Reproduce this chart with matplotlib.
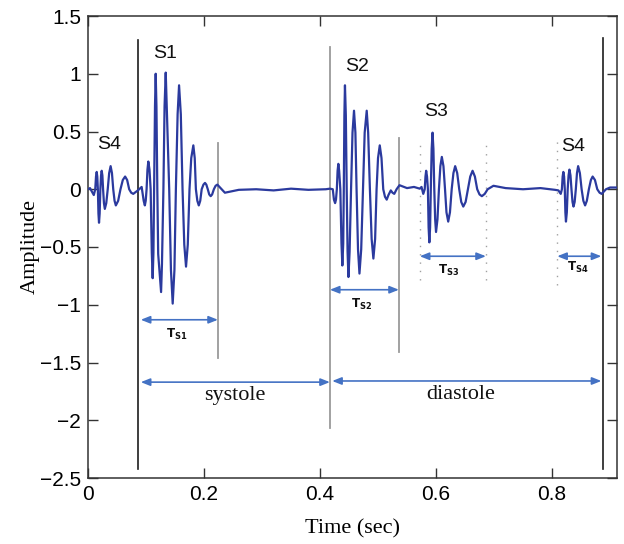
import matplotlib
matplotlib.use("Agg")
import matplotlib.pyplot as plt

# ---------------- data ----------------
# heart-sound trace, read segment by segment (time in s, amplitude)
s4a_t = [0.0, 0.0034, 0.010, 0.0125, 0.0138, 0.015, 0.016, 0.017, 0.018, 0.019, 0.0201,
         0.0213, 0.0225, 0.0236, 0.0248, 0.026, 0.0275, 0.029, 0.0315, 0.034, 0.0365, 0.039,
         0.0413, 0.0435, 0.0458, 0.048, 0.052, 0.056, 0.060, 0.064, 0.0675, 0.071, 0.0745,
         0.078, 0.086]
s4a_a = [0.0, 0.01, -0.05, 0.0, 0.11, 0.15, 0.11, 0.0, -0.21, -0.29, -0.21,
         0.0, 0.12, 0.16, 0.12, 0.0, -0.12, -0.17, -0.12, 0.0, 0.14, 0.20,
         0.14, 0.0, -0.10, -0.14, -0.10, 0.0, 0.08, 0.11, 0.08, 0.0, -0.03,
         -0.04, -0.01]

s1_t = [0.0925, 0.096, 0.098, 0.0995, 0.101, 0.1025, 0.104, 0.106, 0.108, 0.110, 0.1115,
        0.1128, 0.114, 0.1155, 0.1167, 0.118, 0.1195, 0.121, 0.126, 0.1275, 0.130, 0.132,
        0.134, 0.1374, 0.140, 0.143, 0.146, 0.149, 0.1515, 0.1545, 0.157, 0.160, 0.163,
        0.166, 0.169, 0.172, 0.175, 0.178, 0.1816, 0.184, 0.186, 0.1885, 0.191, 0.1935,
        0.196, 0.199, 0.2017, 0.204, 0.2065, 0.209, 0.2115, 0.214, 0.217, 0.220, 0.223]
s1_a = [0.02, -0.10, -0.14, -0.10, 0.0, 0.17, 0.24, 0.17, 0.0, -0.55, -0.77,
        -0.55, 0.0, 0.72, 1.00, 0.72, 0.0, -0.56, -0.89, -0.65, 0.0, 0.72,
        1.01, 0.42, 0.0, -0.70, -0.99, -0.70, 0.0, 0.65, 0.90, 0.65, 0.0,
        -0.48, -0.67, -0.48, 0.0, 0.27, 0.38, 0.27, 0.0, -0.10, -0.14, -0.10,
        0.0, 0.04, 0.055, 0.04, 0.0, -0.045, -0.06, -0.045, 0.0, 0.03, 0.04]

sys_t = [0.236, 0.26, 0.29, 0.32, 0.35, 0.38, 0.41]
sys_a = [-0.03, -0.005, 0.0, -0.01, 0.005, -0.005, 0.0]

s2_t = [0.417, 0.422, 0.424, 0.426, 0.4275, 0.429, 0.4303, 0.4316, 0.433, 0.435, 0.437,
        0.4385, 0.440, 0.441, 0.442, 0.443, 0.4445, 0.446, 0.4475, 0.449, 0.451, 0.4535,
        0.456, 0.4586, 0.461, 0.463, 0.4655, 0.468, 0.471, 0.474, 0.477, 0.4805, 0.483,
        0.486, 0.489, 0.492, 0.495, 0.4975, 0.500, 0.503, 0.506, 0.509, 0.512, 0.515,
        0.518, 0.522, 0.525, 0.528, 0.532, 0.537]
s2_a = [0.005, 0.0, -0.09, -0.12, -0.09, 0.0, 0.16, 0.22, 0.16, 0.0, -0.47,
        -0.66, -0.47, 0.0, 0.64, 0.90, 0.64, 0.0, -0.54, -0.76, -0.54, 0.0,
        0.49, 0.68, 0.49, 0.0, -0.52, -0.73, -0.52, 0.0, 0.49, 0.68, 0.49,
        0.0, -0.43, -0.60, -0.43, 0.0, 0.27, 0.38, 0.27, 0.0, -0.065, -0.09,
        -0.05, -0.01, -0.03, -0.04, 0.0, 0.035]

gap1_t = [0.55, 0.562, 0.572]
gap1_a = [0.01, 0.02, 0.005]

s3_t = [0.575, 0.578, 0.5805, 0.5818, 0.583, 0.5845, 0.586, 0.5872, 0.5885, 0.5898, 0.591,
        0.5925, 0.594, 0.5955, 0.597, 0.5985, 0.600, 0.6025, 0.605, 0.6075, 0.610, 0.6128,
        0.6155, 0.618, 0.621, 0.624, 0.627, 0.630, 0.633, 0.6365, 0.640, 0.6435, 0.647,
        0.651, 0.655, 0.659, 0.663, 0.667, 0.671, 0.675, 0.679, 0.684, 0.689, 0.699]
s3_a = [0.02, -0.04, 0.0, 0.11, 0.16, 0.11, 0.0, -0.33, -0.46, -0.33, 0.0,
        0.35, 0.49, 0.35, 0.0, -0.26, -0.37, -0.26, 0.0, 0.20, 0.28, 0.20,
        0.0, -0.20, -0.28, -0.20, 0.0, 0.14, 0.20, 0.14, 0.0, -0.11, -0.15,
        -0.11, 0.0, 0.11, 0.16, 0.11, 0.0, -0.045, -0.06, -0.04, 0.0, 0.03]

gap2_t = [0.72, 0.75, 0.78, 0.805]
gap2_a = [0.01, 0.0, 0.01, -0.005]

s4b_t = [0.811, 0.815, 0.817, 0.8183, 0.8195, 0.8208, 0.822, 0.823, 0.824, 0.8255, 0.827,
         0.8285, 0.830, 0.8318, 0.8335, 0.8353, 0.837, 0.839, 0.841, 0.843, 0.845, 0.848,
         0.851, 0.854, 0.857, 0.860, 0.8635, 0.867, 0.870, 0.874, 0.878, 0.882, 0.8856,
         0.893, 0.900, 0.912]
s4b_a = [-0.01, -0.04, 0.0, 0.11, 0.15, 0.11, 0.0, -0.20, -0.28, -0.20, 0.0,
         0.12, 0.17, 0.12, 0.0, -0.11, -0.15, -0.11, 0.0, 0.14, 0.20, 0.14,
         0.0, -0.10, -0.14, -0.10, 0.0, 0.08, 0.11, 0.08, 0.0, -0.03, -0.04,
         0.0, 0.015, 0.015]

# vertical markers: (time, bottom, top)
black_lines = [(0.086, -2.42, 1.29), (0.888, -2.42, 1.31)]
gray_lines = [(0.224, -1.46, 0.40), (0.417, -2.07, 1.23), (0.536, -1.41, 0.44)]
dotted_lines = [(0.572, -0.79, 0.43), (0.686, -0.79, 0.43), (0.809, -0.83, 0.47)]

# interval arrows: (start, end, level)
spans = [(0.091, 0.224, -1.13), (0.417, 0.536, -0.87), (0.572, 0.686, -0.58),
         (0.809, 0.885, -0.58), (0.091, 0.417, -1.67), (0.421, 0.885, -1.66)]
span_labels = [(0.153, -1.255, "S1"), (0.472, -1.0, "S2"), (0.622, -0.70, "S3"), (0.845, -0.675, "S4")]
phase_labels = [(0.253, -1.79, "systole"), (0.643, -1.78, "diastole")]
sound_labels = [(0.036, 0.39, "S4"), (0.133, 1.175, "S1"), (0.464, 1.06, "S2"),
                (0.600, 0.67, "S3"), (0.837, 0.37, "S4")]

xticks = [0, 0.2, 0.4, 0.6, 0.8]
xticklabels = ["0", "0.2", "0.4", "0.6", "0.8"]
yticks = [-2.5, -2, -1.5, -1, -0.5, 0, 0.5, 1, 1.5]
yticklabels = ["\u22122.5", "\u22122", "\u22121.5", "\u22121", "\u22120.5", "0", "0.5", "1", "1.5"]

# ---------------- drawing ----------------
sans = ["Liberation Sans", "DejaVu Sans"]
serif = ["Liberation Serif", "DejaVu Serif"]

sig_t = s4a_t + s1_t + sys_t + s2_t + gap1_t + s3_t + gap2_t + s4b_t
sig_a = s4a_a + s1_a + sys_a + s2_a + gap1_a + s3_a + gap2_a + s4b_a

fig = plt.figure(figsize=(6.24, 5.44), dpi=100)
ax = fig.add_axes([88 / 624, 1 - 478 / 544, (617 - 88) / 624, (478 - 16) / 544])

for t, lo, hi in black_lines:
    ax.plot([t, t], [lo, hi], color="#1e1e1e", lw=1.2, zorder=2)
for t, lo, hi in gray_lines:
    ax.plot([t, t], [lo, hi], color="#9a9a9a", lw=1.3, zorder=2)
for t, lo, hi in dotted_lines:
    ax.plot([t, t], [lo, hi], color="#a0a0a0", lw=1.0, ls=(0, (1, 5)), zorder=2)

ax.plot(sig_t, sig_a, color="#2b3a9e", lw=1.6, zorder=3,
        solid_joinstyle="round", solid_capstyle="round")

blue = "#4472c4"
for a, b, lev in spans:
    ax.annotate("", xy=(b, lev), xytext=(a, lev),
                arrowprops=dict(arrowstyle="<|-|>,head_length=0.55,head_width=0.22",
                                color=blue, lw=1.2, shrinkA=0, shrinkB=0), zorder=4)

for t, a, sub in span_labels:
    ax.text(t, a, r"$\mathbf{T_{%s}}$" % sub, ha="center", va="center", fontsize=8.5, color="#111111")

for t, a, s in phase_labels:
    ax.text(t, a, s, ha="center", va="center", fontsize=16, family=serif, color="#111111")

for t, a, s in sound_labels:
    ax.text(t, a, s, ha="center", va="center", fontsize=14, family=sans, color="#111111")

ax.set_xlim(0, 0.912)
ax.set_ylim(-2.5, 1.5)
ax.set_xticks(xticks)
ax.set_xticklabels(xticklabels, family=sans, fontsize=15)
ax.set_yticks(yticks)
ax.set_yticklabels(yticklabels, family=sans, fontsize=15)
ax.tick_params(direction="in", length=7, width=1.0, color="#333333", top=True, right=True, pad=5)
for sp in ax.spines.values():
    sp.set_color("#333333")
    sp.set_linewidth(1.1)

ax.set_xlabel("Time (sec)", family=serif, fontsize=16, labelpad=11)
ax.set_ylabel("Amplitude", family=serif, fontsize=16, labelpad=0)

fig.savefig("out.png", dpi=100)
